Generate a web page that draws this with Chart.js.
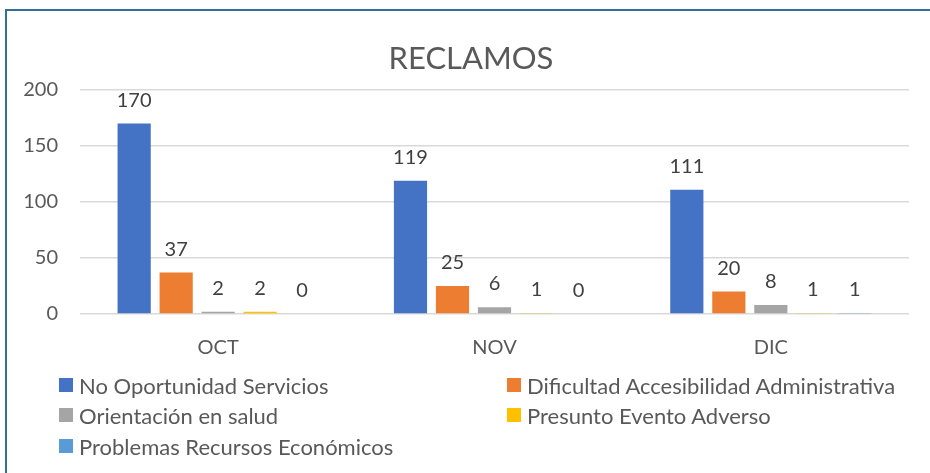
<!DOCTYPE html>
<html>
<head>
<meta charset="utf-8">
<script src="https://cdn.jsdelivr.net/npm/chart.js@4"></script>
<style>
  html, body { margin: 0; padding: 0; background: #fff; }
  #wrap { position: relative; width: 930px; height: 473px; overflow: hidden; font-family: Lato, "Open Sans", sans-serif; }
  #frame { position: absolute; left: 5px; top: 9px; right: -5px; bottom: -5px; border-top: 2px solid #336f98; border-left: 2px solid #336f98; pointer-events: none; }
  #c { position: absolute; left: 0; top: 0; }
  #title { position: absolute; left: 0; width: 942px; top: 38px; text-align: center; font-size: 31px; color: #595959; line-height: 38px; }
  .lg { position: absolute; display: flex; align-items: center; height: 30px; font-size: 22px; color: #595959; white-space: nowrap; }
  .lg span.sw { display: inline-block; width: 14px; height: 14px; margin-right: 6px; }
</style>
</head>
<body>
<div id="wrap">
  <canvas id="c" width="930" height="473"></canvas>
  <div id="frame"></div>
  <div id="title"></div>
  <div id="legend"></div>
</div>
<script>
const titleText = "RECLAMOS";
const categories = ["OCT", "NOV", "DIC"];
const seriesNames = [
  "No Oportunidad Servicios",
  "Dificultad Accesibilidad Administrativa",
  "Orientación en salud",
  "Presunto Evento Adverso",
  "Problemas Recursos Económicos"
];
const noOportunidad = [170, 119, 111];
const dificultad = [37, 25, 20];
const orientacion = [2, 6, 8];
const presunto = [2, 1, 1];
const problemas = [0, 0, 1];
const yTicks = [0, 50, 100, 150, 200];
const colors = ["#4472C4", "#ED7D31", "#A5A5A5", "#FFC000", "#5B9BD5"];

const seriesValues = [noOportunidad, dificultad, orientacion, presunto, problemas];

const FONT = "Lato, 'Open Sans', sans-serif";

document.getElementById("title").textContent = titleText;

const valueLabels = {
  id: "valueLabels",
  afterDatasetsDraw(chart) {
    const ctx = chart.ctx;
    ctx.save();
    ctx.font = "20px " + FONT;
    ctx.fillStyle = "#404040";
    ctx.textAlign = "center";
    ctx.textBaseline = "alphabetic";
    chart.data.datasets.forEach((ds, i) => {
      const meta = chart.getDatasetMeta(i);
      meta.data.forEach((el, j) => {
        ctx.fillText(String(ds.data[j]), el.x, el.y - 17);
      });
    });
    ctx.restore();
  }
};

new Chart(document.getElementById("c"), {
  type: "bar",
  data: {
    labels: categories,
    datasets: seriesNames.map((n, i) => ({
      label: n,
      data: seriesValues[i],
      backgroundColor: colors[i],
      borderWidth: 0,
      categoryPercentage: 0.76,
      barPercentage: 0.79
    }))
  },
  options: {
    responsive: false,
    animation: false,
    layout: { padding: { left: 0, right: 21, top: 90, bottom: 113 } },
    plugins: {
      legend: { display: false },
      tooltip: { enabled: false },
      title: { display: false }
    },
    scales: {
      x: {
        grid: { display: false },
        border: { display: false },
        ticks: { color: "#595959", font: { family: FONT, size: 20 }, padding: 14 },
        afterFit(s) { s.height = 46; }
      },
      y: {
        min: 0, max: 200,
        afterBuildTicks(s) { s.ticks = yTicks.map(v => ({ value: v })); },
        grid: { color: "#D9D9D9", lineWidth: 1.5, drawTicks: false },
        border: { display: false },
        ticks: { color: "#595959", font: { family: FONT, size: 20 }, padding: 22 },
        afterFit(s) { s.width = 80; }
      }
    }
  },
  plugins: [valueLabels]
});

// legend in two columns
const legend = document.getElementById("legend");
const colX = [59, 507];
const rowY = [385, 415, 446];
seriesNames.forEach((n, i) => {
  const d = document.createElement("div");
  d.className = "lg";
  d.style.left = colX[i % 2] + "px";
  d.style.top = (rowY[Math.floor(i / 2)] - 15) + "px";
  const sw = document.createElement("span");
  sw.className = "sw";
  sw.style.background = colors[i];
  d.appendChild(sw);
  d.appendChild(document.createTextNode(n));
  legend.appendChild(d);
});
</script>
</body>
</html>
